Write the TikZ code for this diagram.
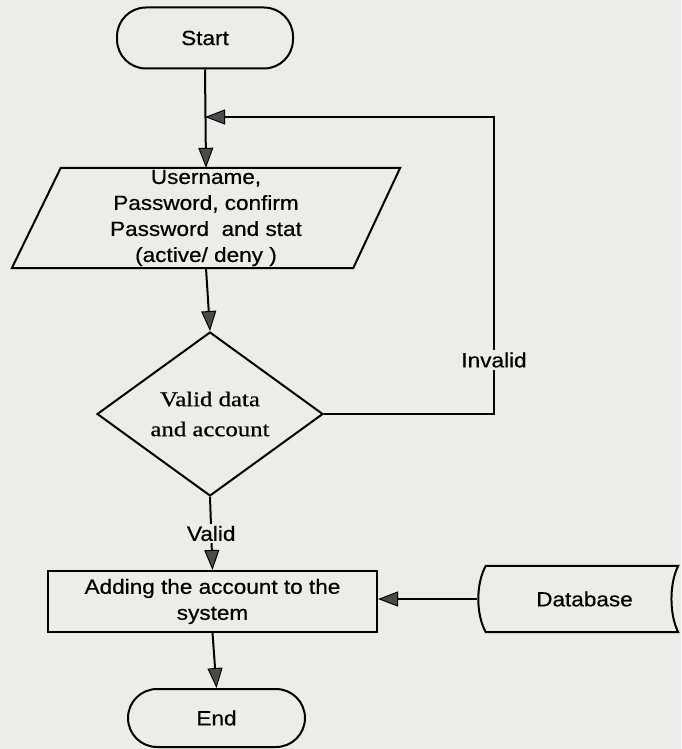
\documentclass[tikz,border=0pt]{standalone}
\usepackage{fontspec}
\setmainfont{Liberation Serif}[FakeStretch=1.18,FakeBold=0.6]
\newfontfamily\arialfont{Liberation Sans}[FakeStretch=1.1,FakeBold=0.5]
\usetikzlibrary{arrows.meta,shapes.geometric,calc}

\definecolor{paper}{RGB}{236,236,234}
\definecolor{tipgray}{RGB}{75,75,75}

\tikzset{
  flowline/.style={line width=2pt, draw=black},
  arrowline/.style={flowline, -{Triangle[length=20pt,width=15pt,fill=tipgray,line width=1pt]}},
  sanstext/.style={font=\arialfont\fontsize{20.5}{26}\selectfont, align=center},
  serifstext/.style={font=\fontsize{21}{30}\selectfont, align=center},
  terminal/.style={flowline, sanstext, rectangle, rounded corners=29pt, inner sep=0pt},
  process/.style={flowline, sanstext, rectangle, inner sep=0pt},
  decision/.style={flowline, serifstext, diamond, inner sep=0pt},
  shell/.style={sanstext, rectangle, inner sep=0pt},
  edgelabel/.style={sanstext, fill=paper, inner sep=2pt},
}

\begin{document}
\begin{tikzpicture}[x=1pt,y=-1pt]
  % page and paper tone
  \fill[paper] (0,0) rectangle (681,749);
  \useasboundingbox (0,0) rectangle (681,749);

  % nodes
  \node[terminal, minimum width=176pt, minimum height=61pt] (start) at (205,38) {Start};

  \node[shell, minimum width=388pt, minimum height=100pt] (input) at (206,218)
    {Username,\\Password, confirm\\Password\ \ and stat\\(active/ deny )};
  \draw[flowline, line join=miter]
    ($(input.north west)+(49,0)$) -- (input.north east)
    -- ($(input.south east)+(-47,0)$) -- (input.south west) -- cycle;

  \node[decision, minimum width=226pt, minimum height=164pt] (check) at (210,414)
    {Valid data\\and account};

  \node[process, minimum width=329pt, minimum height=61pt] (add) at (212.5,601.5)
    {Adding the account to the\\system};

  \node[shell, minimum width=201pt, minimum height=66pt] (db) at (577.5,599)
    {\hspace*{14pt}Database};
  \draw[flowline]
    ($(db.north west)+(9,0)$) -- (db.north east)
    .. controls ($(db.north east)+(-9,18)$) and ($(db.south east)+(-9,-18)$) .. (db.south east)
    -- ($(db.south west)+(9,0)$)
    .. controls ($(db.south west)+(-1,-18)$) and ($(db.north west)+(-1,18)$) .. ($(db.north west)+(9,0)$) -- cycle;

  \node[terminal, minimum width=177pt, minimum height=58pt] (finish) at (216.5,718) {End};

  % feedback corner
  \coordinate (loopcorner) at (494,117);

  % connectors
  \draw[arrowline] (start.south) -- (input.north);
  \draw[arrowline] (input.south) -- (check.north);
  \draw[arrowline] (check.south) -- node[edgelabel, pos=0.5] (valid) {Valid} (add.north);
  \draw[arrowline] (add.south) -- (finish.north);
  \draw[arrowline] (db.west) -- (db.west -| add.east);
  \draw[arrowline] (check.east) -| (loopcorner) -- (start.south |- loopcorner);
  \node[edgelabel] (invalid) at (494,360) {Invalid};
\end{tikzpicture}
\end{document}
